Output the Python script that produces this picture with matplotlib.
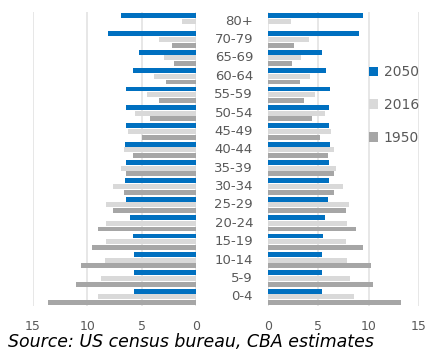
import matplotlib
matplotlib.use("Agg")
import matplotlib.pyplot as plt
import numpy as np

# Age groups, bottom to top
ages = ["0-4", "5-9", "10-14", "15-19", "20-24", "25-29", "30-34", "35-39",
        "40-44", "45-49", "50-54", "55-59", "60-64", "65-69", "70-79", "80+"]
years = ["2050", "2016", "1950"]

# Share of population (%), left half of the pyramid
left_2050 = [5.7, 5.7, 5.7, 5.8, 6.1, 6.4, 6.5, 6.4, 6.5, 6.4, 6.4, 6.4, 5.8, 5.2, 8.1, 6.9]
left_2016 = [9.0, 8.7, 8.4, 8.3, 8.3, 8.3, 7.6, 6.9, 6.6, 6.3, 5.6, 4.5, 3.9, 2.9, 3.4, 1.3]
left_1950 = [13.6, 11.0, 10.6, 9.6, 9.0, 7.6, 6.6, 6.4, 5.8, 5.0, 4.2, 3.4, 2.8, 2.0, 2.2, 0]

# Right half of the pyramid
right_2050 = [5.35, 5.35, 5.35, 5.45, 5.65, 5.95, 6.05, 6.05, 6.15, 6.05, 6.05, 6.15, 5.8, 5.35, 9.05, 9.4]
right_2016 = [8.55, 8.15, 7.85, 7.75, 7.85, 8.05, 7.45, 6.75, 6.55, 6.25, 5.65, 4.65, 4.15, 3.25, 4.05, 2.3]
right_1950 = [13.2, 10.4, 10.2, 9.4, 8.75, 7.75, 6.55, 6.55, 5.95, 5.15, 4.35, 3.55, 3.15, 2.4, 2.6, 0]

colors = ["#0070C0", "#D9D9D9", "#A6A6A6"]
grid_col = "#E3E3E3"
text_col = "#595959"

y = np.arange(len(ages))
offsets = [0.31, 0.0, -0.31]
h = 0.27

fig = plt.figure(figsize=(4.28, 3.6), dpi=100)
ax_l = fig.add_axes([33 / 428, 54 / 360, 163 / 428, 294 / 360])
ax_r = fig.add_axes([268 / 428, 54 / 360, 151 / 428, 294 / 360])

for vals, off, c in zip([left_2050, left_2016, left_1950], offsets, colors):
    ax_l.barh(y + off, vals, height=h, color=c, zorder=2)
handles = []
for vals, off, c, lab in zip([right_2050, right_2016, right_1950], offsets, colors, years):
    handles.append(ax_r.barh(y + off, vals, height=h, color=c, zorder=2, label=lab))

ax_l.set_xlim(15, 0)
ax_r.set_xlim(0, 15)
for ax in (ax_l, ax_r):
    ax.set_ylim(-0.5, len(ages) - 0.5)
    ax.set_xticks([0, 5, 10, 15])
    ax.set_yticks([])
    for s in ax.spines.values():
        s.set_visible(False)
    ax.grid(axis="x", color=grid_col, linewidth=1.2, zorder=0)
    ax.tick_params(axis="x", length=0, pad=10, labelsize=9, labelcolor=text_col)

# age labels between the halves
for yi, lab in zip(y, ages):
    fig.text(253 / 428, 1 - (306 - (yi + 0.5) * 294 / 16) / 360, lab,
             ha="right", va="center", fontsize=9.5, color=text_col)

leg = fig.legend(handles=handles, labels=years, loc="center left",
                 bbox_to_anchor=(356 / 428, 1 - 105 / 360), frameon=False,
                 fontsize=10, labelcolor=text_col, handlelength=0.7,
                 handleheight=0.7, handletextpad=0.4, labelspacing=1.35)

fig.text(8 / 428, 1 - 342 / 360, "Source: US census bureau, CBA estimates",
         ha="left", va="center", fontsize=12.5, style="italic", color="#000000")

fig.savefig("out.png", dpi=100)
